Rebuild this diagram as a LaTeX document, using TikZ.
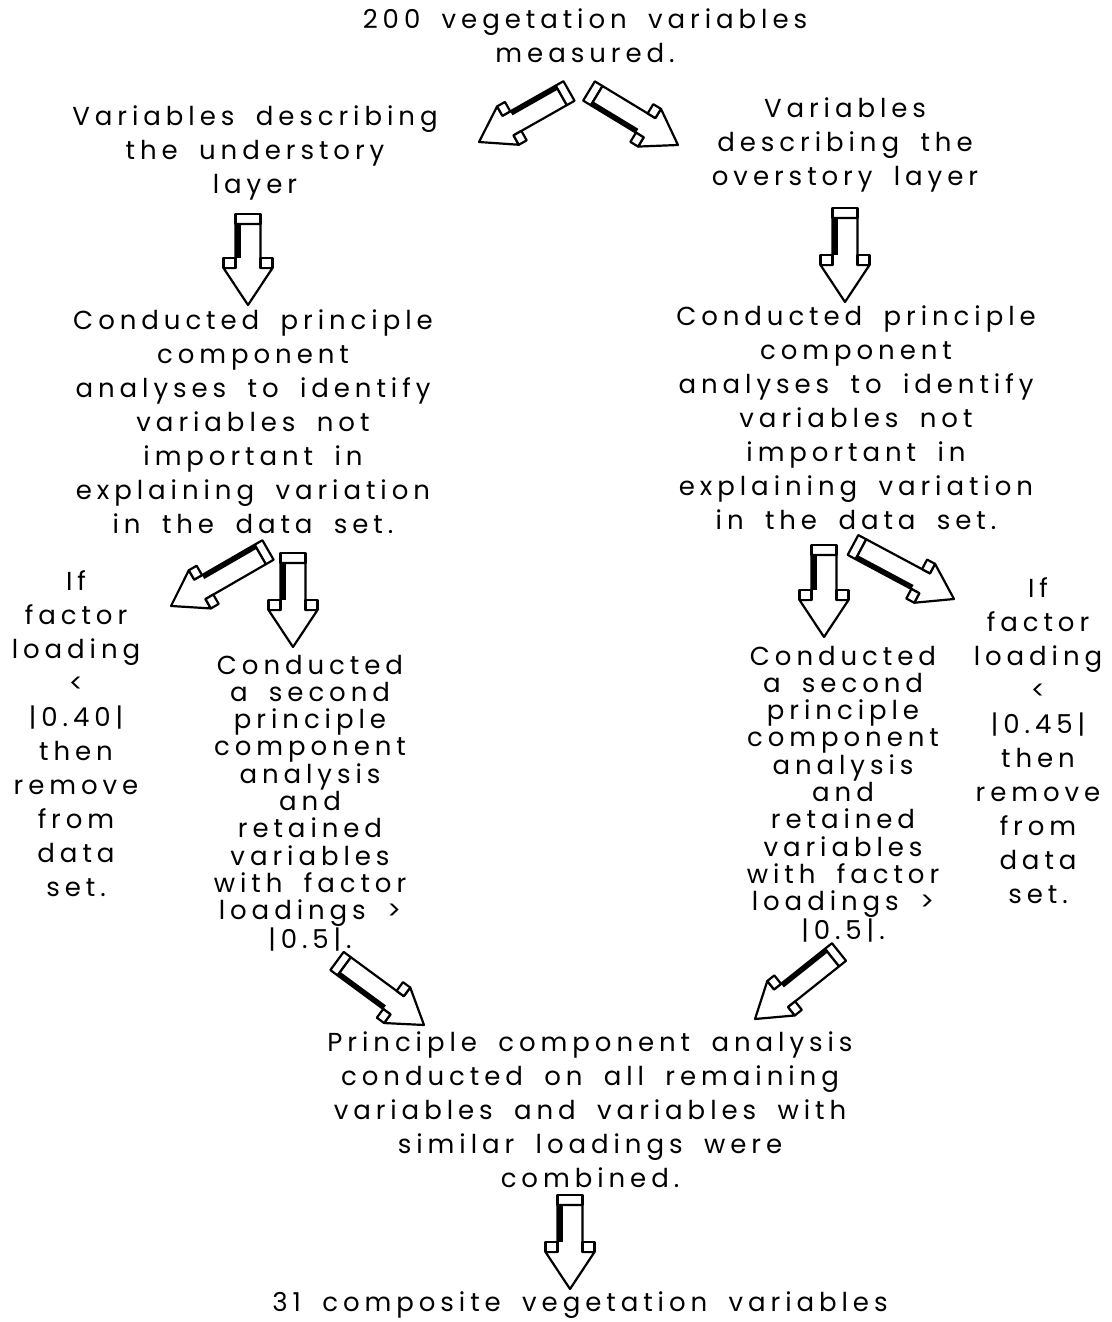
\documentclass[tikz,border=0pt]{standalone}
\usepackage{fontspec}
\setmainfont{Poppins}[LetterSpace=19,WordSpace=1.8]
\usetikzlibrary{calc}
\tikzset{
  arrline/.style={line width=2.2pt,line join=round},
  txt/.style={align=center,inner sep=0pt,font=\fontsize{26}{34}\selectfont},
  txtb/.style={align=center,inner sep=0pt,font=\fontsize{26}{27.3}\selectfont},
  pics/barrow/.style 2 args={code={
    \pgfmathsetmacro\arrLen{#1}
    \pgfmathsetmacro\arrS{#2}
    \pgfmathsetmacro\arrWa{12.5*\arrS}
    \pgfmathsetmacro\arrWb{24.5*\arrS}
    \pgfmathsetmacro\arrH{37*\arrS}
    \pgfmathsetmacro\arrD{10*\arrS}
    \pgfmathsetmacro\arrHb{\arrLen-\arrH}
    \pgfmathsetmacro\arrHc{\arrHb-\arrD}
    \pgfmathsetmacro\arrT{-\arrWa+5*\arrS}
    \draw[arrline,fill=white] (0,-\arrWa) rectangle (\arrD,\arrWa);
    \draw[arrline,fill=white] (\arrD,-\arrWa) -- (\arrHb,-\arrWa) -- (\arrHb,-\arrWb) -- (\arrLen,0) -- (\arrHb,\arrWb) -- (\arrHb,\arrWa) -- (\arrD,\arrWa) -- cycle;
    \draw[arrline,fill=white] (\arrHc,-\arrWb) rectangle (\arrHb,-\arrWa);
    \draw[arrline,fill=white] (\arrHc,\arrWa) rectangle (\arrHb,\arrWb);
    \fill (\arrD,-\arrWa) rectangle (\arrHc,\arrT);
  }}
}
\newcommand\blockarr[3]{\path let \p1=($(#2)-(#1)$), \n1={atan2(\y1,\x1)}, \n2={veclen(\x1,\y1)} in (#1) pic[rotate=\n1] {barrow={\n2}{#3}};}
\begin{document}
\begin{tikzpicture}[x=1pt,y=1pt]
\useasboundingbox[fill=white] (0,0) rectangle (1111,-1322);
% texts
\node[txt] (top) at (585,-36) {200 vegetation variables\\measured.};
\node[txt] (lup) at (255,-153) {Variables describing\\the understory\\layer};
\node[txt] (rup) at (845,-145) {Variables\\describing the\\overstory layer};
\node[txt] (lpca) at (253,-422) {Conducted principle\\component\\analyses to identify\\variables not\\important in\\explaining variation\\in the data set.};
\node[txt] (rpca) at (856,-418) {Conducted principle\\component\\analyses to identify\\variables not\\important in\\explaining variation\\in the data set.};
\node[txt] (lif) at (76,-734) {If\\factor\\loading\\<\\|0.40|\\then\\remove\\from\\data\\set.};
\node[txtb] (lsec) at (310,-803) {Conducted\\a second\\principle\\component\\analysis\\and\\retained\\variables\\with factor\\loadings >\\|0.5|.};
\node[txtb] (rsec) at (843,-794) {Conducted\\a second\\principle\\component\\analysis\\and\\retained\\variables\\with factor\\loadings >\\|0.5|.};
\node[txt] (rif) at (1038,-741) {If\\factor\\loading\\<\\|0.45|\\then\\remove\\from\\data\\set.};
\node[txt] (bot) at (590,-1110) {Principle component analysis\\conducted on all remaining\\variables and variables with\\similar loadings were\\combined.};
\node[txt] (fin) at (580,-1305) {31 composite vegetation variables};
% arrow end points
\coordinate (a1s) at (569,-91);  \coordinate (a1e) at (479,-142);
\coordinate (a2s) at (589,-91);  \coordinate (a2e) at (678,-145);
\coordinate (a3s) at (248,-214); \coordinate (a3e) at (248,-305);
\coordinate (a4s) at (845,-208); \coordinate (a4e) at (845,-302);
\coordinate (a5s) at (268,-550); \coordinate (a5e) at (171,-606);
\coordinate (a6s) at (293,-553); \coordinate (a6e) at (293,-647);
\coordinate (a7s) at (824,-545); \coordinate (a7e) at (824,-637);
\coordinate (a8s) at (853,-545); \coordinate (a8e) at (954,-599);
\coordinate (a9s) at (337,-961); \coordinate (a9e) at (424,-1025);
\coordinate (a10s) at (839,-952); \coordinate (a10e) at (755,-1019);
\coordinate (a11s) at (570,-1195); \coordinate (a11e) at (570,-1289);
\blockarr{a1s}{a1e}{0.9}
\blockarr{a2s}{a2e}{0.9}
\blockarr{a3s}{a3e}{1}
\blockarr{a4s}{a4e}{1}
\blockarr{a5s}{a5e}{0.9}
\blockarr{a6s}{a6e}{1}
\blockarr{a7s}{a7e}{1}
\blockarr{a8s}{a8e}{0.9}
\blockarr{a9s}{a9e}{0.9}
\blockarr{a10s}{a10e}{0.9}
\blockarr{a11s}{a11e}{1}
\end{tikzpicture}
\end{document}
